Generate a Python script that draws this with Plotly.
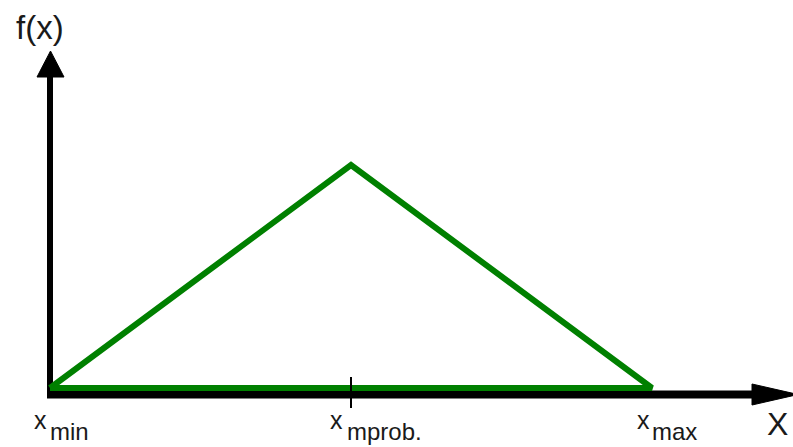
import plotly.graph_objects as go

# Triangular distribution: support endpoints, most probable value, and density
x_points = [0.0, 1.0, 2.0]            # x_min, x_mprob., x_max
f_values = [0.0, 1.0, 0.0]            # f(x) at those points (peak = 2 / (x_max - x_min))
label_main = ["x", "x", "x"]
label_sub = ["min", "mprob.", "max"]
axis_title_x = "X"
axis_title_y = "f(x)"

W, H = 793, 447
X_RANGE = [-0.1661, 2.4684]
Y_RANGE = [-0.2646, 1.7399]

GREEN = "#008000"
INK = "#1a1a1a"
FONT = "Liberation Sans, Arial, sans-serif"


def px_x(p):
    """Horizontal pixel -> data coordinate."""
    return X_RANGE[0] + p / W * (X_RANGE[1] - X_RANGE[0])


def px_y(p):
    """Vertical pixel (from top) -> data coordinate."""
    return Y_RANGE[1] - p / H * (Y_RANGE[1] - Y_RANGE[0])


fig = go.Figure()

# density triangle (closed along the baseline)
fig.add_trace(go.Scatter(
    x=x_points + [x_points[0]],
    y=f_values + [f_values[0]],
    mode="lines",
    line=dict(color=GREEN, width=6),
    hoverinfo="skip",
    showlegend=False,
))

shapes = []
# vertical axis with arrowhead
shapes.append(dict(type="line", layer="below", xref="x", yref="y",
                   x0=px_x(50), x1=px_x(50), y0=px_y(398), y1=px_y(70),
                   line=dict(color="black", width=6)))
shapes.append(dict(type="path", layer="below", xref="x", yref="y",
                   path=f"M {px_x(37)},{px_y(77)} L {px_x(50.5)},{px_y(51)} "
                        f"L {px_x(64)},{px_y(77)} Z",
                   fillcolor="black", line=dict(color="black", width=1)))
# horizontal axis with arrowhead
shapes.append(dict(type="line", layer="below", xref="x", yref="y",
                   x0=px_x(47), x1=px_x(760), y0=px_y(394.5), y1=px_y(394.5),
                   line=dict(color="black", width=8)))
shapes.append(dict(type="path", layer="below", xref="x", yref="y",
                   path=f"M {px_x(752)},{px_y(384)} L {px_x(798)},{px_y(394.5)} "
                        f"L {px_x(752)},{px_y(405)} Z",
                   fillcolor="black", line=dict(color="black", width=1)))
# tick at the most probable value
shapes.append(dict(type="line", layer="above", xref="x", yref="y",
                   x0=x_points[1], x1=x_points[1], y0=px_y(377), y1=px_y(408),
                   line=dict(color="black", width=2)))

annotations = []
# x-axis point labels: main letter plus lowered suffix
main_left = [32, 328, 635]
sub_left = [48, 345, 650]
for i in range(3):
    annotations.append(dict(
        x=px_x(main_left[i]), y=px_y(420), xref="x", yref="y",
        text=label_main[i], showarrow=False, xanchor="left", yanchor="middle",
        font=dict(family=FONT, size=25, color=INK)))
    annotations.append(dict(
        x=px_x(sub_left[i]), y=px_y(431), xref="x", yref="y",
        text=label_sub[i], showarrow=False, xanchor="left", yanchor="middle",
        font=dict(family=FONT, size=24, color=INK)))

annotations.append(dict(
    x=px_x(765), y=px_y(424), xref="x", yref="y", text=axis_title_x,
    showarrow=False, xanchor="left", yanchor="middle",
    font=dict(family=FONT, size=32, color=INK)))
annotations.append(dict(
    x=px_x(14), y=px_y(27), xref="x", yref="y", text=axis_title_y,
    showarrow=False, xanchor="left", yanchor="middle",
    font=dict(family=FONT, size=33, color=INK)))

fig.update_layout(
    width=W, height=H,
    margin=dict(l=0, r=0, t=0, b=0),
    paper_bgcolor="white", plot_bgcolor="white",
    xaxis=dict(range=X_RANGE, visible=False, fixedrange=True),
    yaxis=dict(range=Y_RANGE, visible=False, fixedrange=True),
    shapes=shapes,
    annotations=annotations,
    showlegend=False,
)

fig.write_html("out.html")
